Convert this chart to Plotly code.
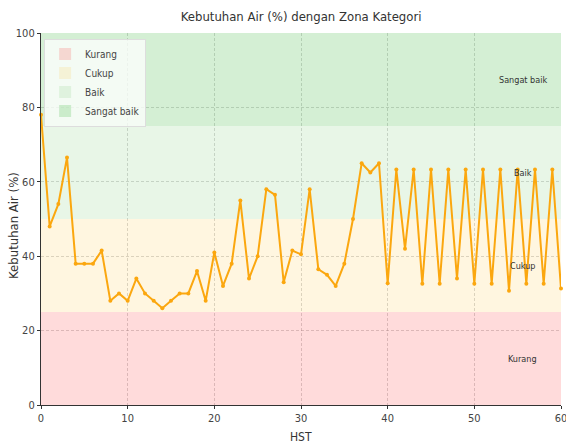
import plotly.graph_objects as go

# Data
hst = list(range(0, 61))
kebutuhan_air = [
    78, 48, 54, 66.5, 38, 38, 38, 41.5, 28, 30, 28, 34, 30, 28, 26, 28, 30, 30, 36, 28,
    41, 32, 38, 55, 34, 40, 58, 56.5, 33, 41.5, 40.5, 58, 36.5, 35, 32, 38, 50, 65, 62.5, 65,
    32.7, 63.3, 42, 63.3, 32.6, 63.3, 32.6, 63.3, 34, 63.3, 32.6, 63.3, 32.6, 63.3, 30.7, 63.3, 32.6, 63.3, 32.6, 63.3,
    31.3,
]
zone_names = ["Kurang", "Cukup", "Baik", "Sangat baik"]
zone_lower = [0, 25, 50, 75]
zone_upper = [25, 50, 75, 100]
zone_colors = ["rgba(255,0,0,0.14)", "rgba(255,200,60,0.16)", "rgba(120,200,110,0.17)", "rgba(60,180,60,0.22)"]
label_x = 55.6

FONT = "Liberation Sans Narrow, DejaVu Sans Condensed, Open Sans, sans-serif"
x_min, x_max = 0, 60

fig = go.Figure()

for name, lo, hi, col in zip(zone_names, zone_lower, zone_upper, zone_colors):
    fig.add_trace(go.Scatter(
        x=[x_min, x_max, x_max, x_min, x_min],
        y=[lo, lo, hi, hi, lo],
        fill="toself", fillcolor=col, mode="none",
        name=name, hoverinfo="skip", showlegend=False,
    ))
    # legend swatch
    fig.add_trace(go.Scatter(
        x=[None], y=[None], mode="markers", name=name,
        marker=dict(symbol="square", size=12, color=col),
        showlegend=True,
    ))
    fig.add_annotation(
        x=label_x, y=(lo + hi) / 2, text=name, showarrow=False,
        font=dict(size=9, color="#333333", family=FONT),
    )

fig.add_trace(go.Scatter(
    x=hst, y=kebutuhan_air, mode="lines+markers",
    line=dict(color="#FBA70F", width=2),
    marker=dict(size=4, color="#FBA70F"),
    showlegend=False, cliponaxis=False,
))

# axis titles
fig.add_annotation(text="Kebutuhan Air (%)", xref="paper", yref="paper", x=-0.052, y=0.484,
                   textangle=-90, showarrow=False, xanchor="center", yanchor="middle",
                   font=dict(size=13, color="#333333", family=FONT))
fig.add_annotation(text="HST", xref="paper", yref="paper", x=0.5, y=-0.086,
                   showarrow=False, xanchor="center", yanchor="middle",
                   font=dict(size=12, color="#333333", family=FONT))

fig.update_layout(
    width=566, height=446,
    margin=dict(l=41, r=5, t=33, b=41, autoexpand=False),
    paper_bgcolor="white", plot_bgcolor="white",
    font=dict(family=FONT, color="#444444", size=11),
    title=dict(text="Kebutuhan Air (%) dengan Zona Kategori", x=0.532, xanchor="center",
               y=0.962, yanchor="middle", font=dict(size=13, color="#333333", family=FONT)),
    legend=dict(x=0.006, y=0.985, xanchor="left", yanchor="top",
                bgcolor="rgba(255,255,255,0.75)", bordercolor="#dddddd", borderwidth=1,
                font=dict(size=10, color="#444444", family=FONT),
                tracegroupgap=0, itemwidth=30),
    showlegend=True,
)
fig.update_xaxes(
    range=[x_min, x_max], tickvals=[0, 10, 20, 30, 40, 50, 60],
    showgrid=True, gridcolor="rgba(150,150,150,0.4)", griddash="3px,2px", gridwidth=1,
    showline=True, linecolor="#333333", linewidth=1.2, ticks="outside", ticklen=3, tickcolor="#333333",
    zeroline=False, automargin=False, ticklabeloverflow="allow",
    tickfont=dict(size=11, color="#444444"),
)
fig.update_yaxes(
    range=[0, 100], tickvals=[0, 20, 40, 60, 80, 100],
    showgrid=True, gridcolor="rgba(150,150,150,0.4)", griddash="3px,2px", gridwidth=1,
    showline=True, linecolor="#333333", linewidth=1.2, ticks="outside", ticklen=3, tickcolor="#333333",
    zeroline=False, automargin=False, ticklabeloverflow="allow",
    tickfont=dict(size=11, color="#444444"),
)

fig.write_html("out.html", config={"displayModeBar": False},
               post_script="document.body.style.margin='0';document.body.style.overflow='hidden';")
